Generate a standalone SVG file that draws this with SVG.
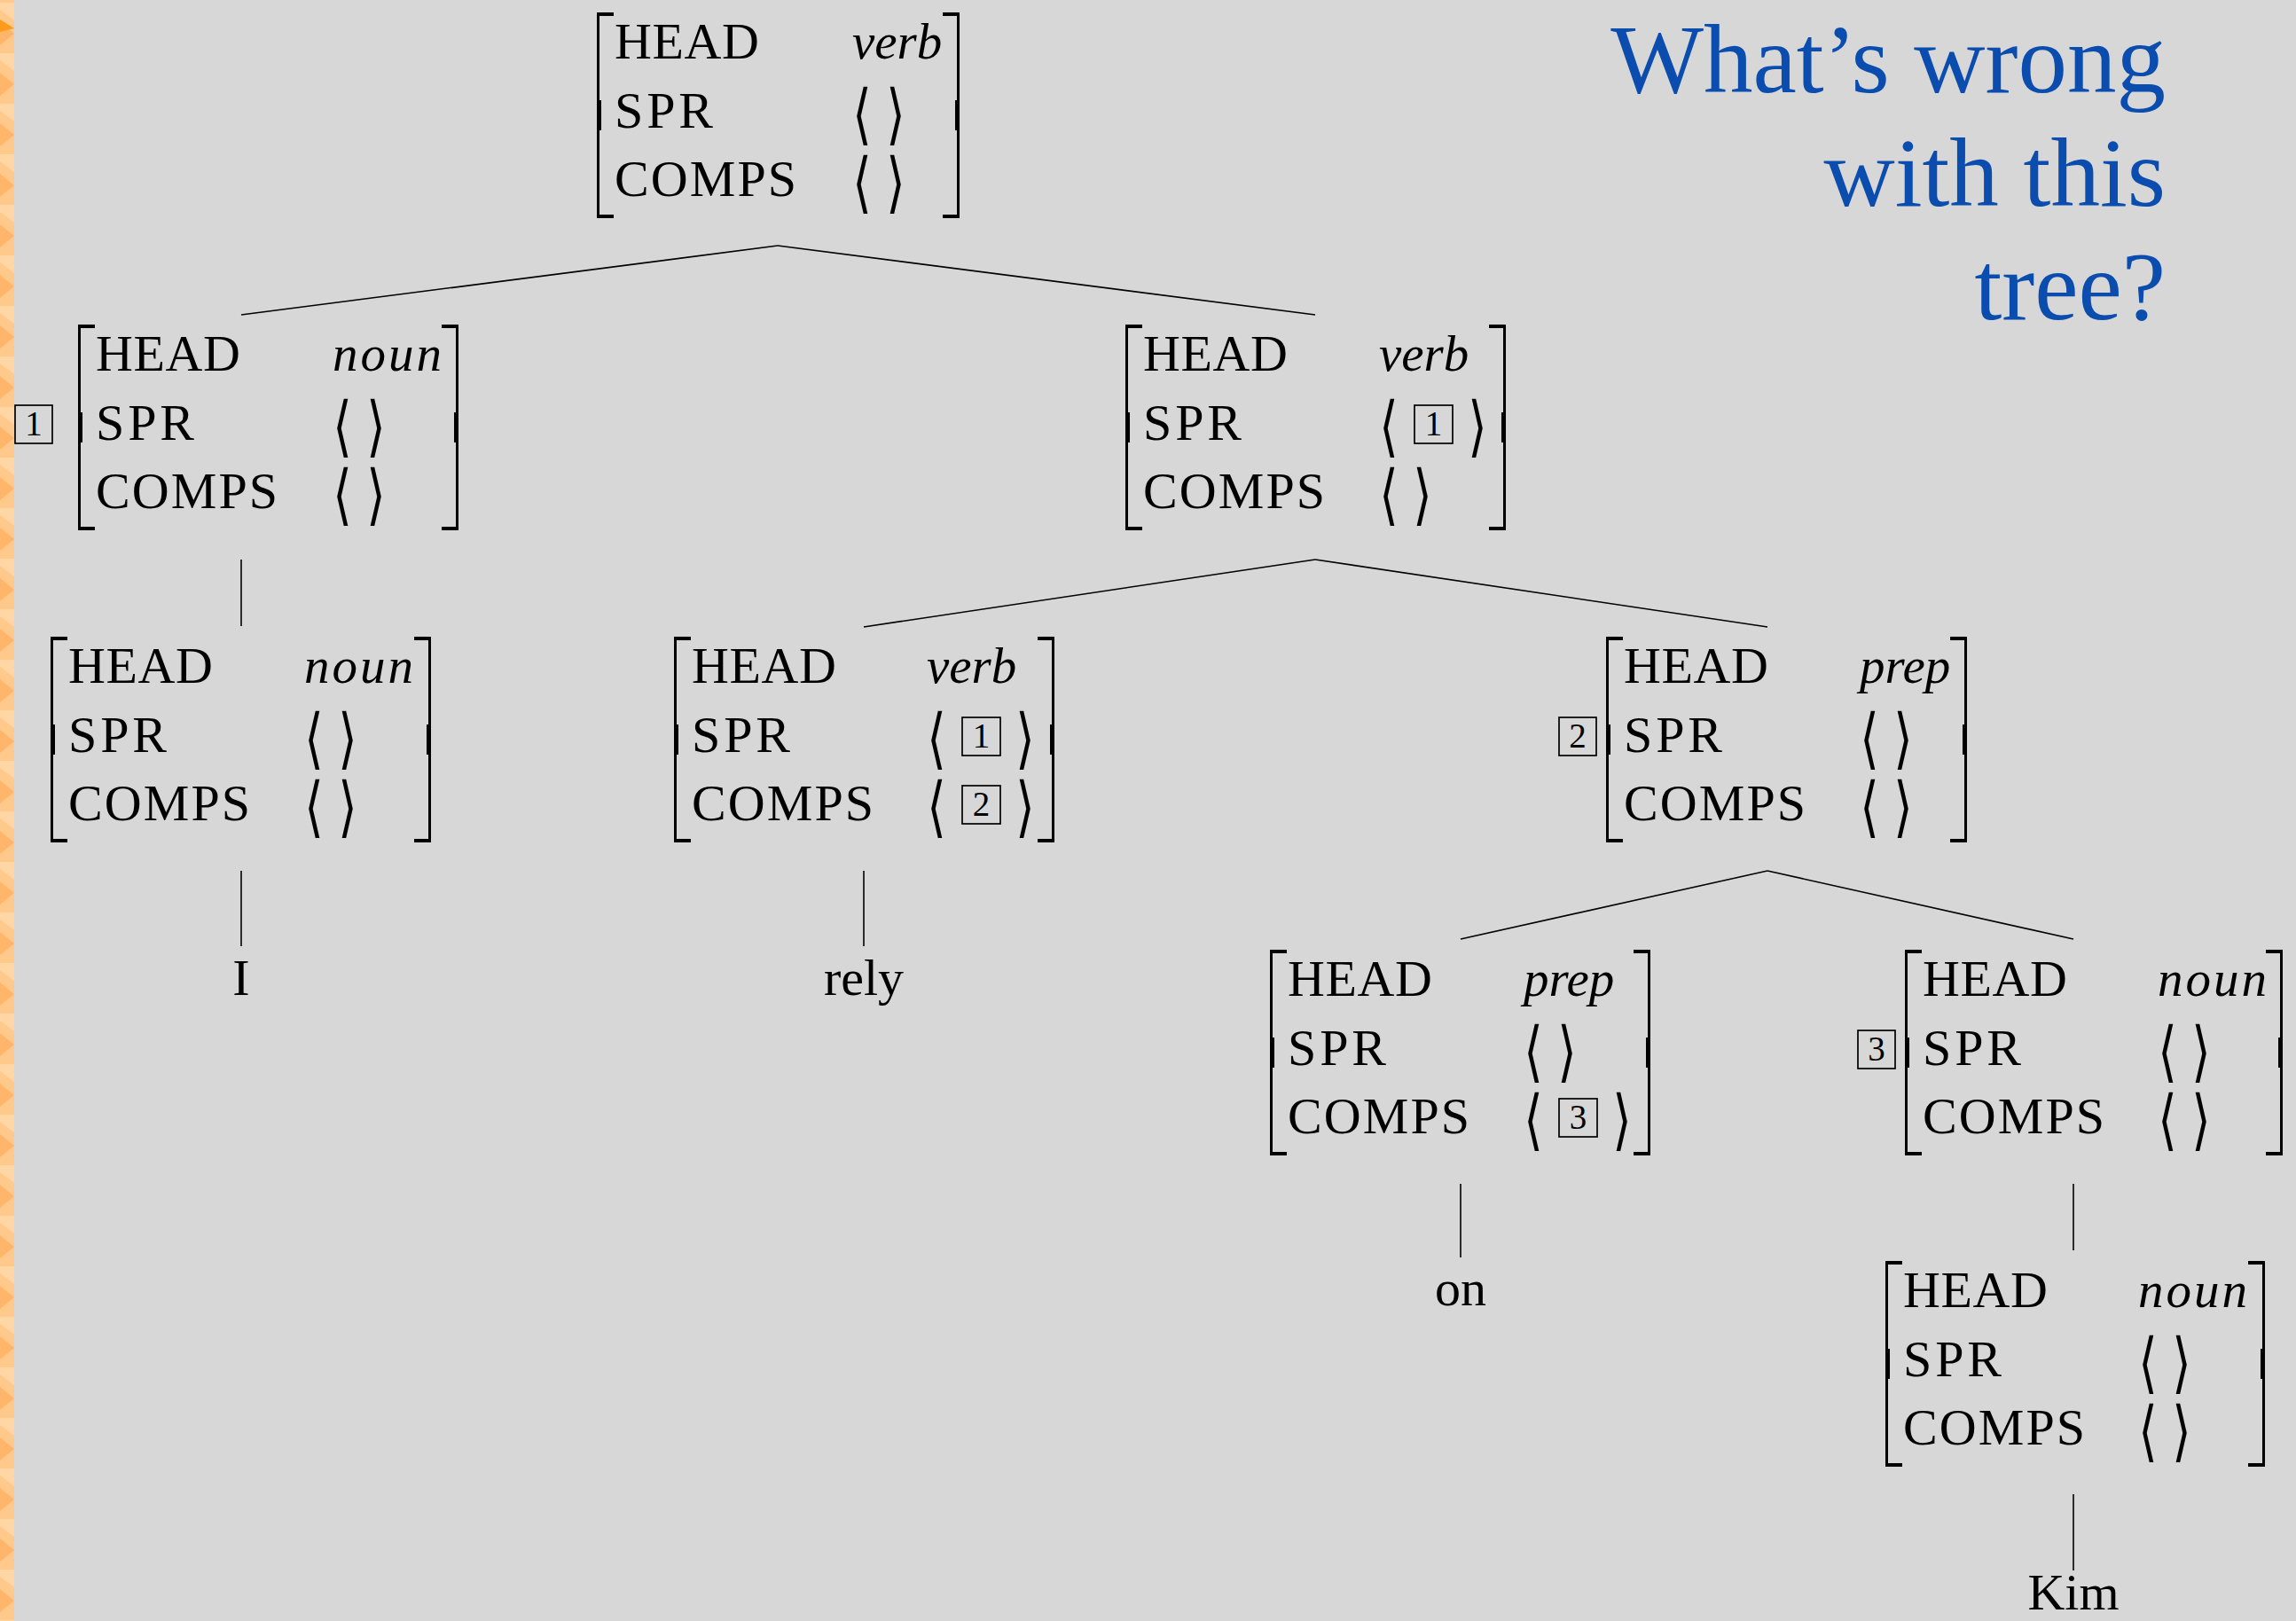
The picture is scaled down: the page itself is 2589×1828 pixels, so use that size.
<svg xmlns="http://www.w3.org/2000/svg" width="2589" height="1828" viewBox="0 0 2589 1828">
<style>
.k{font-family:"Liberation Serif","Times New Roman",serif;font-size:58px;fill:#000}
.v{font-style:italic;font-size:57px}
.a{font-family:"DejaVu Sans",sans-serif;font-size:55px;text-anchor:middle;fill:#000}
.d{font-family:"Liberation Serif","Times New Roman",serif;font-size:39px;text-anchor:middle;fill:#000}
.box{fill:none;stroke:#000;stroke-width:1.7}
.e{stroke:#000;stroke-width:1.6;fill:none}
.leaf{font-family:"Liberation Serif","Times New Roman",serif;font-size:58px;text-anchor:middle;fill:#000}
.t{font-family:"Liberation Serif","Times New Roman",serif;font-size:111px;fill:#0B4DAF;text-anchor:end}
</style>
<defs>
<g id="lb" fill="#000"><rect x="0" y="0" width="3" height="232"/><rect x="0" y="0" width="19" height="4"/><rect x="0" y="228" width="19" height="4"/><rect x="0" y="99" width="5" height="34"/></g>
<g id="rb" fill="#000"><rect x="-3" y="0" width="3" height="232"/><rect x="-19" y="0" width="19" height="4"/><rect x="-19" y="228" width="19" height="4"/><rect x="-5" y="99" width="5" height="34"/></g>
<pattern id="stripe" x="0" y="3" width="16" height="57" patternUnits="userSpaceOnUse">
<rect width="16" height="57" fill="#FFC98C"/>
<polygon points="0,0 16,0 16,20 0,8" fill="#FFD6A4"/>
<polygon points="0,22 16,35 0,48" fill="#FFB56A"/>
</pattern>
</defs>
<rect width="2589" height="1828" fill="#D7D7D7"/>
<rect x="0" y="0" width="16" height="1828" fill="url(#stripe)"/>
<polygon points="0,22 16,32 0,36" fill="#FF9A1A"/>

<g id="title">
<text class="t" x="2442" y="104">What’s wrong</text>
<text class="t" x="2442" y="232">with this</text>
<text class="t" x="2442" y="360">tree?</text>
</g>

<g id="connectors">
<line class="e" x1="877" y1="277" x2="272" y2="355"/>
<line class="e" x1="877" y1="277" x2="1483" y2="355"/>
<line class="e" x1="272" y1="631" x2="272" y2="706"/>
<line class="e" x1="272" y1="982" x2="272" y2="1067"/>
<line class="e" x1="1483" y1="631" x2="974" y2="707"/>
<line class="e" x1="1483" y1="631" x2="1993" y2="707"/>
<line class="e" x1="974" y1="982" x2="974" y2="1067"/>
<line class="e" x1="1993" y1="982" x2="1647" y2="1059"/>
<line class="e" x1="1993" y1="982" x2="2338" y2="1059"/>
<line class="e" x1="1647" y1="1335" x2="1647" y2="1418"/>
<line class="e" x1="2338" y1="1335" x2="2338" y2="1410"/>
<line class="e" x1="2338" y1="1685" x2="2338" y2="1771"/>
</g>

<g id="n-root">
<use href="#lb" x="673" y="14"/><use href="#rb" x="1082" y="14"/>
<text class="k" x="693" y="66" textLength="163">HEAD</text><text class="k v" x="961" y="66">verb</text>
<text class="k" x="693" y="144" textLength="111">SPR</text><text class="a" transform="matrix(1 0 0 1.35 972 154)">⟨</text><text class="a" transform="matrix(1 0 0 1.35 1010 154)">⟩</text>
<text class="k" x="693" y="221" textLength="205">COMPS</text><text class="a" transform="matrix(1 0 0 1.35 972 231)">⟨</text><text class="a" transform="matrix(1 0 0 1.35 1010 231)">⟩</text>
</g>

<g id="n-subj">
<rect class="box" x="17" y="457" width="42" height="43"/><text class="d" x="38" y="491">1</text>
<use href="#lb" x="88" y="366"/><use href="#rb" x="517" y="366"/>
<text class="k" x="108" y="418" textLength="163">HEAD</text><text class="k v" x="375" y="418" textLength="123">noun</text>
<text class="k" x="108" y="496" textLength="111">SPR</text><text class="a" transform="matrix(1 0 0 1.35 386 506)">⟨</text><text class="a" transform="matrix(1 0 0 1.35 424 506)">⟩</text>
<text class="k" x="108" y="573" textLength="205">COMPS</text><text class="a" transform="matrix(1 0 0 1.35 386 583)">⟨</text><text class="a" transform="matrix(1 0 0 1.35 424 583)">⟩</text>
</g>

<g id="n-vp">
<use href="#lb" x="1269" y="366"/><use href="#rb" x="1698" y="366"/>
<text class="k" x="1289" y="418" textLength="163">HEAD</text><text class="k v" x="1555" y="418">verb</text>
<text class="k" x="1289" y="496" textLength="111">SPR</text><text class="a" transform="matrix(1 0 0 1.35 1566 506)">⟨</text><rect class="box" x="1595" y="457" width="43" height="43"/><text class="d" x="1616.5" y="491">1</text><text class="a" transform="matrix(1 0 0 1.35 1666 506)">⟩</text>
<text class="k" x="1289" y="573" textLength="205">COMPS</text><text class="a" transform="matrix(1 0 0 1.35 1566 583)">⟨</text><text class="a" transform="matrix(1 0 0 1.35 1604 583)">⟩</text>
</g>

<g id="n-I">
<use href="#lb" x="57" y="718"/><use href="#rb" x="486" y="718"/>
<text class="k" x="77" y="770" textLength="163">HEAD</text><text class="k v" x="343" y="770" textLength="123">noun</text>
<text class="k" x="77" y="848" textLength="111">SPR</text><text class="a" transform="matrix(1 0 0 1.35 354 858)">⟨</text><text class="a" transform="matrix(1 0 0 1.35 392 858)">⟩</text>
<text class="k" x="77" y="925" textLength="205">COMPS</text><text class="a" transform="matrix(1 0 0 1.35 354 935)">⟨</text><text class="a" transform="matrix(1 0 0 1.35 392 935)">⟩</text>
</g>

<g id="n-rely">
<use href="#lb" x="760" y="718"/><use href="#rb" x="1189" y="718"/>
<text class="k" x="780" y="770" textLength="163">HEAD</text><text class="k v" x="1045" y="770">verb</text>
<text class="k" x="780" y="848" textLength="111">SPR</text><text class="a" transform="matrix(1 0 0 1.35 1056 858)">⟨</text><rect class="box" x="1085" y="809" width="43" height="43"/><text class="d" x="1106.5" y="843">1</text><text class="a" transform="matrix(1 0 0 1.35 1156 858)">⟩</text>
<text class="k" x="780" y="925" textLength="205">COMPS</text><text class="a" transform="matrix(1 0 0 1.35 1056 935)">⟨</text><rect class="box" x="1085" y="886" width="43" height="43"/><text class="d" x="1106.5" y="920">2</text><text class="a" transform="matrix(1 0 0 1.35 1156 935)">⟩</text>
</g>

<g id="n-pp">
<rect class="box" x="1758" y="809" width="42" height="43"/><text class="d" x="1779" y="843">2</text>
<use href="#lb" x="1811" y="718"/><use href="#rb" x="2218" y="718"/>
<text class="k" x="1831" y="770" textLength="163">HEAD</text><text class="k v" x="2097" y="770">prep</text>
<text class="k" x="1831" y="848" textLength="111">SPR</text><text class="a" transform="matrix(1 0 0 1.35 2108 858)">⟨</text><text class="a" transform="matrix(1 0 0 1.35 2146 858)">⟩</text>
<text class="k" x="1831" y="925" textLength="205">COMPS</text><text class="a" transform="matrix(1 0 0 1.35 2108 935)">⟨</text><text class="a" transform="matrix(1 0 0 1.35 2146 935)">⟩</text>
</g>

<g id="n-on">
<use href="#lb" x="1432" y="1071"/><use href="#rb" x="1861" y="1071"/>
<text class="k" x="1452" y="1123" textLength="163">HEAD</text><text class="k v" x="1718" y="1123">prep</text>
<text class="k" x="1452" y="1201" textLength="111">SPR</text><text class="a" transform="matrix(1 0 0 1.35 1729 1211)">⟨</text><text class="a" transform="matrix(1 0 0 1.35 1767 1211)">⟩</text>
<text class="k" x="1452" y="1278" textLength="205">COMPS</text><text class="a" transform="matrix(1 0 0 1.35 1729 1288)">⟨</text><rect class="box" x="1758" y="1239" width="43" height="43"/><text class="d" x="1779.5" y="1273">3</text><text class="a" transform="matrix(1 0 0 1.35 1829 1288)">⟩</text>
</g>

<g id="n-np">
<rect class="box" x="2095" y="1162" width="42" height="43"/><text class="d" x="2116" y="1196">3</text>
<use href="#lb" x="2148" y="1071"/><use href="#rb" x="2574" y="1071"/>
<text class="k" x="2168" y="1123" textLength="163">HEAD</text><text class="k v" x="2433" y="1123" textLength="123">noun</text>
<text class="k" x="2168" y="1201" textLength="111">SPR</text><text class="a" transform="matrix(1 0 0 1.35 2444 1211)">⟨</text><text class="a" transform="matrix(1 0 0 1.35 2482 1211)">⟩</text>
<text class="k" x="2168" y="1278" textLength="205">COMPS</text><text class="a" transform="matrix(1 0 0 1.35 2444 1288)">⟨</text><text class="a" transform="matrix(1 0 0 1.35 2482 1288)">⟩</text>
</g>

<g id="n-kim">
<use href="#lb" x="2126" y="1422"/><use href="#rb" x="2554" y="1422"/>
<text class="k" x="2146" y="1474" textLength="163">HEAD</text><text class="k v" x="2411" y="1474" textLength="123">noun</text>
<text class="k" x="2146" y="1552" textLength="111">SPR</text><text class="a" transform="matrix(1 0 0 1.35 2422 1562)">⟨</text><text class="a" transform="matrix(1 0 0 1.35 2460 1562)">⟩</text>
<text class="k" x="2146" y="1629" textLength="205">COMPS</text><text class="a" transform="matrix(1 0 0 1.35 2422 1639)">⟨</text><text class="a" transform="matrix(1 0 0 1.35 2460 1639)">⟩</text>
</g>

<g id="leaves">
<text class="leaf" x="272" y="1122">I</text>
<text class="leaf" x="974" y="1122">rely</text>
<text class="leaf" x="1647" y="1472">on</text>
<text class="leaf" x="2338" y="1815">Kim</text>
</g>
</svg>
